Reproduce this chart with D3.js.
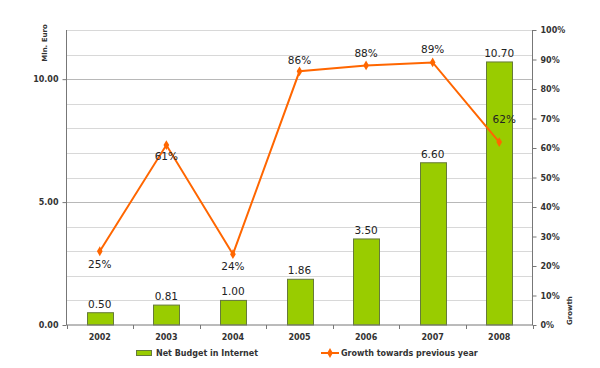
<!DOCTYPE html>
<html><head><meta charset="utf-8">
<script src="https://cdn.jsdelivr.net/npm/d3@7/dist/d3.min.js"></script>
<style>body{margin:0;background:#fff}svg{display:block}</style>
</head><body>
<svg id="c" width="600" height="368"></svg>
<script>
const years = ["2002","2003","2004","2005","2006","2007","2008"];
const budget = [0.50, 0.81, 1.00, 1.86, 3.50, 6.60, 10.70];
const growth = [25, 61, 24, 86, 88, 89, 62];
const leftTicks = [0, 5, 10];
const rightTicks = [0,10,20,30,40,50,60,70,80,90,100];
const seriesNames = ["Net Budget in Internet", "Growth towards previous year"];

const svg = d3.select("#c");
const L = 66.5, R = 532.5, T = 30, B = 325;
const x = d3.scaleBand().domain(years).range([L, R]);
const yL = d3.scaleLinear().domain([0, 12]).range([B, T]);
const yR = d3.scaleLinear().domain([0, 100]).range([B, T]);
const font = "DejaVu Sans, Verdana, sans-serif";

// gridlines every unit
const g = svg.append("g");
g.selectAll("line").data(d3.range(1, 13)).join("line")
  .attr("x1", L).attr("x2", R)
  .attr("y1", d => Math.round(yL(d)) + 0.5).attr("y2", d => Math.round(yL(d)) + 0.5)
  .attr("stroke", d => d % 5 === 0 ? "#b8b8b8" : "#d8d8d8").attr("stroke-width", 1);

// bars
const bw = 26;
svg.append("g").selectAll("rect").data(budget).join("rect")
  .attr("x", (d, i) => Math.round(x(years[i]) + x.bandwidth() / 2 - bw / 2) + 0.5)
  .attr("y", d => yL(d))
  .attr("width", bw).attr("height", d => B - yL(d))
  .attr("fill", "#99cc00").attr("stroke", "#667a3a").attr("stroke-width", 1);

// bar labels
svg.append("g").selectAll("text").data(budget).join("text")
  .attr("x", (d, i) => x(years[i]) + x.bandwidth() / 2)
  .attr("y", d => yL(d) - 5)
  .attr("text-anchor", "middle").attr("font-family", font).attr("font-size", 10.5)
  .attr("fill", "#222").text(d => d.toFixed(2));

// axes
const axisCol = "#777";
const axL = d3.axisLeft(yL).tickValues(leftTicks).tickFormat(d => d.toFixed(2)).tickSize(4).tickPadding(4);
const gl = svg.append("g").attr("transform", `translate(${L},0)`).call(axL);
const axR = d3.axisRight(yR).tickValues(rightTicks).tickFormat(d => d + "%").tickSize(4).tickPadding(4);
const gr = svg.append("g").attr("transform", `translate(${R},0)`).call(axR);
const axB = d3.axisBottom(x).tickSize(0).tickPadding(9);
const gb = svg.append("g").attr("transform", `translate(0,${B})`).call(axB);
// category boundary ticks
svg.append("g").selectAll("line").data(d3.range(0, years.length + 1)).join("line")
  .attr("x1", i => Math.round(L + i * x.bandwidth()) + 0.5).attr("x2", i => Math.round(L + i * x.bandwidth()) + 0.5)
  .attr("y1", B).attr("y2", B + 4).attr("stroke", axisCol);
[gl, gr, gb].forEach(a => {
  a.select(".domain").attr("stroke", axisCol);
  a.selectAll(".tick line").attr("stroke", axisCol);
  a.selectAll("text").attr("font-family", font).attr("font-size", 8).attr("font-weight", "bold").attr("fill", "#333");
});
gl.select(".domain").attr("d", `M-0,${T}V${B}`);
gr.select(".domain").attr("d", `M0,${T}V${B}`);
gb.select(".domain").attr("d", `M${L},0H${R}`);

// axis titles
svg.append("text").attr("transform", "translate(47,43) rotate(-90)")
  .attr("text-anchor", "middle").attr("font-family", font).attr("font-size", 7).attr("font-weight", "bold")
  .attr("fill", "#333").text("Mln. Euro");
svg.append("text").attr("transform", `translate(572,${B}) rotate(-90)`)
  .attr("text-anchor", "start").attr("font-family", font).attr("font-size", 7).attr("font-weight", "bold")
  .attr("fill", "#333").text("Growth");

// line
const orange = "#ff6600";
const cx = i => x(years[i]) + x.bandwidth() / 2;
const line = d3.line().x((d, i) => cx(i)).y(d => yR(d));
svg.append("path").datum(growth).attr("d", line).attr("fill", "none")
  .attr("stroke", orange).attr("stroke-width", 2);
svg.append("g").selectAll("path").data(growth).join("path")
  .attr("transform", (d, i) => `translate(${cx(i)},${yR(d)})`)
  .attr("d", d3.symbol(d3.symbolDiamond, 28)).attr("fill", orange);

// growth labels
const labelDy = [17, 15, 16, -7, -8, -9, -19];
const labelDx = [0, 0, 0, 0, 0, 0, 5];
svg.append("g").selectAll("text").data(growth).join("text")
  .attr("x", (d, i) => cx(i) + labelDx[i])
  .attr("y", (d, i) => yR(d) + labelDy[i])
  .attr("text-anchor", "middle").attr("font-family", font).attr("font-size", 10.5)
  .attr("fill", "#222").text(d => d + "%");

// legend
const lg = svg.append("g");
lg.append("rect").attr("x", 136.5).attr("y", 350.5).attr("width", 15).attr("height", 5)
  .attr("fill", "#99cc00").attr("stroke", "#667a3a");
lg.append("text").attr("x", 156).attr("y", 356).attr("font-family", font).attr("font-size", 8)
  .attr("font-weight", "bold").attr("fill", "#333").text(seriesNames[0]);
lg.append("line").attr("x1", 321).attr("x2", 339).attr("y1", 353).attr("y2", 353)
  .attr("stroke", orange).attr("stroke-width", 2);
lg.append("path").attr("transform", "translate(330,353)").attr("d", d3.symbol(d3.symbolDiamond, 28)).attr("fill", orange);
lg.append("text").attr("x", 341).attr("y", 356).attr("font-family", font).attr("font-size", 8)
  .attr("font-weight", "bold").attr("fill", "#333").text(seriesNames[1]);
</script>
</body></html>
